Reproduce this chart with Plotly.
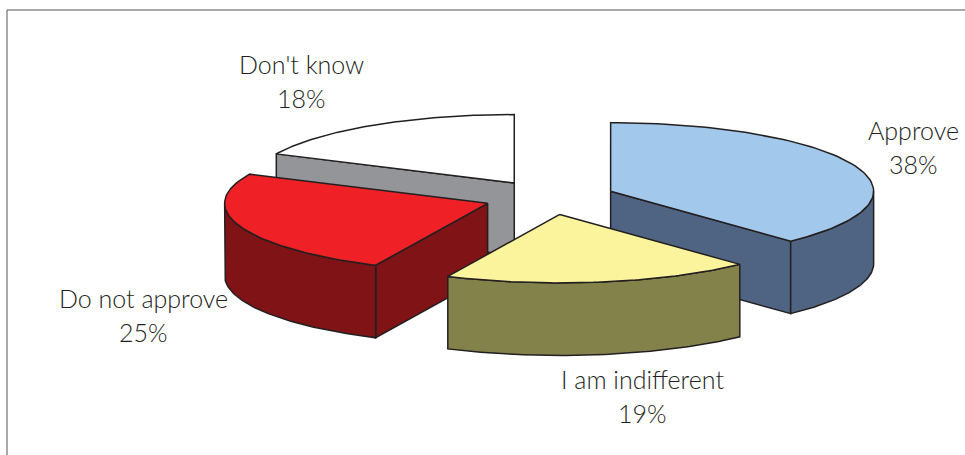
import math
import plotly.graph_objects as go

# Data
categories = ["Approve", "I am indifferent", "Do not approve", "Don't know"]
values = [38, 19, 25, 18]

# Styles (per category)
top_colors = ["#A2C8EC", "#FBF49C", "#EF2126", "#FFFFFF"]
side_colors = ["#4F6482", "#83824B", "#7F1315", "#939598"]
draw_order = ["Don't know", "Approve", "Do not approve", "I am indifferent"]
label_pos = {
    "Approve": (913, 130),
    "I am indifferent": (642, 379),
    "Do not approve": (143, 298),
    "Don't know": (301, 64),
}
LABEL_GAP = 34

# Projection of the pie onto the page (in page-pixel axis units)
CX, CY = 549.5, 197.5
RX, RY = 263, 68.5
DEPTH = 72.5
EXPLODE = 0.25
LINE = "#231F20"
TEXT = "#231F20"
FONT = dict(family="Lato, 'Noto Sans', sans-serif", size=25, color=TEXT, weight=300)


def rim(theta, ox, oy, dz=0.0):
    return ox + RX * math.sin(theta), oy - RY * math.cos(theta) + dz


def arc(t0, t1, ox, oy, dz=0.0, n=80):
    return [rim(t0 + (t1 - t0) * i / n, ox, oy, dz) for i in range(n + 1)]


fig = go.Figure()


def add_poly(pts, fill):
    xs = [p[0] for p in pts] + [pts[0][0]]
    ys = [p[1] for p in pts] + [pts[0][1]]
    fig.add_trace(go.Scatter(
        x=xs, y=ys, mode="lines", fill="toself", fillcolor=fill,
        line=dict(color=LINE, width=1.5), hoverinfo="skip", showlegend=False,
    ))


total = sum(values)
spans = {}
acc = 0
for name, v in zip(categories, values):
    a0 = acc / total * 2 * math.pi
    acc += v
    spans[name] = (a0, acc / total * 2 * math.pi)

for name in draw_order:
    i = categories.index(name)
    t0, t1 = spans[name]
    mid = (t0 + t1) / 2
    ox = CX + EXPLODE * RX * math.sin(mid)
    oy = CY - EXPLODE * RY * math.cos(mid)
    side = side_colors[i]

    # radial walls facing the viewer
    if math.sin(t1) > 1e-6:
        px, py = rim(t1, ox, oy)
        add_poly([(ox, oy), (px, py), (px, py + DEPTH), (ox, oy + DEPTH)], side)
    if math.sin(t0) < -1e-6:
        px, py = rim(t0, ox, oy)
        add_poly([(ox, oy), (px, py), (px, py + DEPTH), (ox, oy + DEPTH)], side)

    # outer wall, front half only
    w0, w1 = max(t0, math.pi / 2), min(t1, 3 * math.pi / 2)
    if w1 > w0:
        add_poly(arc(w0, w1, ox, oy) + arc(w1, w0, ox, oy, DEPTH), side)

    # top face
    add_poly([(ox, oy)] + arc(t0, t1, ox, oy), top_colors[i])

for name, v in zip(categories, values):
    x, y = label_pos[name]
    fig.add_annotation(x=x, y=y, xref="x", yref="y", showarrow=False,
                       text=name, font=FONT)
    fig.add_annotation(x=x, y=y + LABEL_GAP, xref="x", yref="y", showarrow=False,
                       text=f"{v}%", font=FONT)

# chart frame: top and left edges visible
fig.add_shape(type="line", x0=7, y0=10, x1=965, y1=10, xref="x", yref="y",
              line=dict(color="#555555", width=1))
fig.add_shape(type="line", x0=7, y0=10, x1=7, y1=455, xref="x", yref="y",
              line=dict(color="#555555", width=1))

fig.update_layout(
    width=965, height=455, margin=dict(l=0, r=0, t=0, b=0),
    paper_bgcolor="white", plot_bgcolor="white", showlegend=False,
    xaxis=dict(range=[0, 965], visible=False, fixedrange=True),
    yaxis=dict(range=[455, 0], visible=False, fixedrange=True),
)
fig.write_html(
    "out.html",
    config={"displayModeBar": False},
    post_script="document.body.style.margin='0';document.body.style.overflow='hidden';",
)
